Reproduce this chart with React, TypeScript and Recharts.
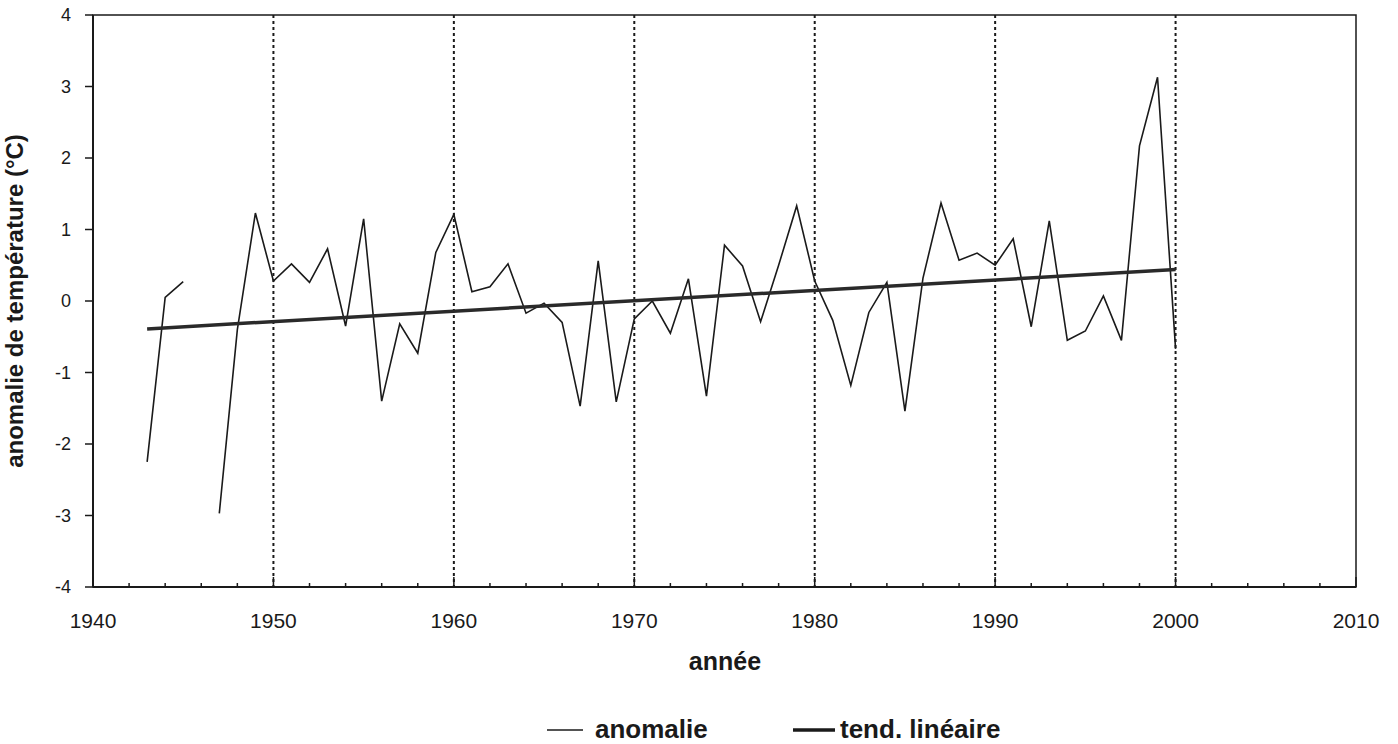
import React from "react";
import { LineChart, Line, XAxis, YAxis, CartesianGrid, ReferenceArea, Legend } from "recharts";

const years = [
  1943, 1944, 1945, 1946, 1947, 1948, 1949, 1950, 1951, 1952, 1953, 1954, 1955, 1956, 1957,
  1958, 1959, 1960, 1961, 1962, 1963, 1964, 1965, 1966, 1967, 1968, 1969, 1970, 1971, 1972,
  1973, 1974, 1975, 1976, 1977, 1978, 1979, 1980, 1981, 1982, 1983, 1984, 1985, 1986, 1987,
  1988, 1989, 1990, 1991, 1992, 1993, 1994, 1995, 1996, 1997, 1998, 1999, 2000,
];
const anomalie = [
  -2.25, 0.05, 0.27, null, -2.97, -0.4, 1.23, 0.28, 0.52, 0.26, 0.73, -0.35, 1.15, -1.4, -0.32,
  -0.73, 0.68, 1.21, 0.13, 0.2, 0.52, -0.17, -0.03, -0.3, -1.47, 0.56, -1.41, -0.25, 0.0, -0.45,
  0.31, -1.33, 0.78, 0.49, -0.29, 0.5, 1.33, 0.28, -0.27, -1.18, -0.16, 0.26, -1.54, 0.32, 1.37,
  0.57, 0.67, 0.5, 0.87, -0.36, 1.12, -0.55, -0.42, 0.07, -0.55, 2.17, 3.13, -0.67,
];
const trendYears = [1943, 2000];
const trendValues = [-0.39, 0.44];

const xTicks = [
  1940, 1942, 1944, 1946, 1948, 1950, 1952, 1954, 1956, 1958, 1960, 1962, 1964, 1966, 1968,
  1970, 1972, 1974, 1976, 1978, 1980, 1982, 1984, 1986, 1988, 1990, 1992, 1994, 1996, 1998,
  2000, 2002, 2004, 2006, 2008, 2010,
];
const xLabels = [1940, 1950, 1960, 1970, 1980, 1990, 2000, 2010];
const gridYears = [1950, 1960, 1970, 1980, 1990, 2000];
const yTicks = [-4, -3, -2, -1, 0, 1, 2, 3, 4];

const data = years.map((year, i) => ({ year, anomalie: anomalie[i] }));
const trend = trendYears.map((year, i) => ({ year, tend: trendValues[i] }));

const FONT = "'Liberation Sans', Arial, sans-serif";
const INK = "#1a1a1a";

function XTick({ x, y, payload }: any) {
  const major = xLabels.includes(payload.value);
  return (
    <g>
      <line x1={x} x2={x} y1={y} y2={y - (major ? 10 : 4)} stroke={INK} strokeWidth={1.5} />
      {major && (
        <text x={x} y={y + 41} textAnchor="middle" fontSize={21} fill={INK} fontFamily={FONT}>
          {payload.value}
        </text>
      )}
    </g>
  );
}

function LegendBox() {
  return (
    <svg width={1398} height={40} style={{ display: "block" }}>
      <line x1={547} x2={583} y1={25} y2={25} stroke={INK} strokeWidth={1.5} />
      <text x={595} y={33} fontSize={26} fontWeight="bold" fill={INK} fontFamily={FONT}>
        anomalie
      </text>
      <line x1={793} x2={835} y1={25} y2={25} stroke={INK} strokeWidth={3.5} />
      <text x={840} y={33} fontSize={26} fontWeight="bold" fill={INK} fontFamily={FONT}>
        tend. linéaire
      </text>
    </svg>
  );
}

export default function App() {
  return (
    <div style={{ position: "absolute", left: 0, top: 0, width: 1398, height: 744, fontFamily: FONT, background: "#fff" }}>
      <LineChart width={1398} height={744} margin={{ top: 15, right: 42, bottom: 0, left: 0 }}>
        <CartesianGrid
          horizontal={false}
          verticalValues={gridYears}
          stroke={INK}
          strokeWidth={2}
          strokeDasharray="3 3"
        />
        <XAxis
          dataKey="year"
          type="number"
          domain={[1940, 2010]}
          ticks={xTicks}
          interval={0}
          height={157}
          tickSize={0}
          tickMargin={0}
          tickLine={false}
          tick={<XTick />}
          axisLine={{ stroke: INK, strokeWidth: 2 }}
          allowDataOverflow
          label={{
            content: () => (
              <text x={725} y={670} textAnchor="middle" fontSize={25} fontWeight="bold" fill={INK} fontFamily={FONT}>
                année
              </text>
            ),
          }}
        />
        <YAxis
          type="number"
          domain={[-4, 4]}
          ticks={yTicks}
          interval={0}
          width={93}
          tickSize={8}
          tickMargin={14}
          tick={{ fontSize: 18, fill: INK, fontFamily: FONT }}
          tickLine={{ stroke: INK, strokeWidth: 1.5 }}
          axisLine={{ stroke: INK, strokeWidth: 2 }}
          label={{
            content: () => (
              <text
                x={23}
                y={301}
                transform="rotate(-90 23 301)"
                textAnchor="middle"
                fontSize={24}
                fontWeight="bold"
                fill={INK}
                fontFamily={FONT}
              >
                anomalie de température (°C)
              </text>
            ),
          }}
        />
        <ReferenceArea x1={1940} x2={2010} y1={-4} y2={4} fill="none" stroke={INK} strokeWidth={1.5} ifOverflow="visible" />
        <Line
          data={data}
          dataKey="anomalie"
          name="anomalie"
          type="linear"
          stroke={INK}
          strokeWidth={1.6}
          dot={false}
          activeDot={false}
          connectNulls={false}
          isAnimationActive={false}
        />
        <Line
          data={trend}
          dataKey="tend"
          name="tend. linéaire"
          type="linear"
          stroke="#2a2a2a"
          strokeWidth={3.5}
          dot={false}
          activeDot={false}
          isAnimationActive={false}
        />
        <Legend
          layout="horizontal"
          verticalAlign="middle"
          align="center"
          content={() => <LegendBox />}
          wrapperStyle={{ top: 705, left: 0, width: 1398, height: 40 }}
        />
      </LineChart>
    </div>
  );
}
